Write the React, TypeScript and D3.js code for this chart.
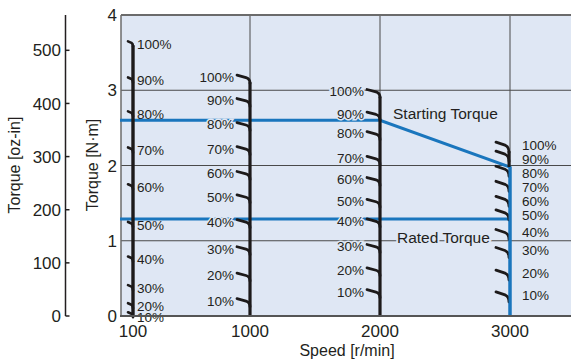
import React from "react";
import * as d3 from "d3";

// ---- data ----
const speeds = [100, 1000, 2000, 3000];
const percentLabels = ["10%", "20%", "30%", "40%", "50%", "60%", "70%", "80%", "90%", "100%"];
const torqueAt100 = [0.05, 0.17, 0.41, 0.79, 1.25, 1.75, 2.24, 2.72, 3.17, 3.65];
const torqueAt1000 = [0.23, 0.57, 0.92, 1.28, 1.61, 1.92, 2.25, 2.57, 2.89, 3.2];
const torqueAt2000 = [0.35, 0.64, 0.95, 1.29, 1.55, 1.84, 2.12, 2.45, 2.71, 3.01];
const torqueAt3000 = [0.32, 0.61, 0.91, 1.15, 1.41, 1.59, 1.79, 1.99, 2.19, 2.31];
const startingSpeed = [0, 2000, 3000, 3000];
const startingTorque = [2.6, 2.6, 1.98, 0];
const ratedSpeed = [0, 3000];
const ratedTorque = [1.29, 1.29];
const xTicks = [100, 1000, 2000, 3000];
const xGrid = [1000, 2000, 3000];
const yTicks = [0, 1, 2, 3, 4];
const yGrid = [1, 2, 3];
const ozTicks = [0, 100, 200, 300, 400, 500];
const NM_TO_OZIN = 141.612;

const W = 571;
const H = 363;
const FONT = "'Liberation Sans', Arial, Helvetica, sans-serif";
const TXT = "#231f20";
const BG = "#dfe7f4";
const BLUE = "#1a76bd";
const GRID = "#4a4a4a";
const INK = "#1d1a1a";

export default function App() {
  const x = d3.scaleLinear().domain([0, 3500]).range([120, 575]);
  const y = d3.scaleLinear().domain([0, 4]).range([316, 15]);
  const yOz = d3.scaleLinear().domain([0, 4 * NM_TO_OZIN]).range([316, 15]);
  const line = d3
    .line<[number, number]>()
    .x((d) => x(d[0]))
    .y((d) => y(d[1]));

  const series = [torqueAt100, torqueAt1000, torqueAt2000, torqueAt3000];

  const curves: React.ReactNode[] = [];
  const labels: React.ReactNode[] = [];

  series.forEach((vals, si) => {
    const sp = speeds[si];
    const xs = x(sp);
    const small = sp === 100;
    const dx = small ? 5 : 13;
    const dy = small ? 5 : si === 3 ? 10 : 8;
    const topT = d3.max(vals) as number;
    const xe = si === 3 ? xs - 1 : xs;
    if (si !== 3) {
      curves.push(
        <path
          key={`bb${si}`}
          d={`M${xs},${y(topT) + dy - 1}L${xs},${y(0)}`}
          stroke={INK}
          strokeWidth={small ? 3.4 : 3.2}
          fill="none"
        />
      );
    } else {
      curves.push(
        <path
          key={`bb${si}`}
          d={`M${xe},${y(topT) + dy - 1}L${xe},${y(startingTorque[2])}`}
          stroke={INK}
          strokeWidth={3}
          fill="none"
        />
      );
    }
    vals.forEach((t, i) => {
      const ty = y(t);
      const d = small
        ? `M${xe - dx},${ty} L${xe - 1.5},${ty + 1.5} Q${xe},${ty + 2.5} ${xe},${ty + dy}`
        : `M${xe - dx},${ty} L${xe - 4},${ty + dy * 0.3} Q${xe},${ty + dy * 0.45} ${xe},${ty + dy}`;
      curves.push(
        <path
          key={`h${si}-${i}`}
          d={d}
          stroke={INK}
          strokeWidth={small ? 2.6 : 2.8}
          fill="none"
          strokeLinecap="round"
          strokeLinejoin="round"
        />
      );
    });

    // labels
    const order = vals.map((_, i) => i).sort((a, b) => vals[b] - vals[a]);
    let prev = -Infinity;
    order.forEach((i) => {
      const ty = y(vals[i]);
      let ly: number;
      let lx: number;
      let anchor: "start" | "end";
      const halo = si === 1 || si === 2;
      if (si === 0) {
        ly = Math.max(ty + 3, prev + 11);
        lx = xs + 4;
        anchor = "start";
      } else if (si === 3) {
        ly = Math.max(ty + 3, prev + 14);
        lx = xs + 12;
        anchor = "start";
      } else {
        ly = ty + 2;
        lx = xs - dx - 3;
        anchor = "end";
      }
      prev = ly;
      labels.push(
        <text
          key={`l${si}-${i}`}
          x={lx}
          y={ly}
          dy="0.36em"
          textAnchor={anchor}
          fontSize={13.5}
          fill={TXT}
          stroke={halo ? BG : "none"}
          strokeWidth={halo ? 3 : 0}
          paintOrder="stroke"
        >
          {percentLabels[i]}
        </text>
      );
    });
  });

  const startPts: [number, number][] = startingSpeed.map((s, i) => [s, startingTorque[i]]);
  const ratedPts: [number, number][] = ratedSpeed.map((s, i) => [s, ratedTorque[i]]);
  const x0 = x(0) + 1;

  return (
    <svg
      width={W}
      height={H}
      style={{ position: "absolute", left: 0, top: 0, fontFamily: FONT }}
    >
      <rect x={0} y={0} width={W} height={H} fill="#fff" />
      <rect x={x0} y={y(4)} width={W - x0} height={y(0) - y(4)} fill={BG} />
      {yGrid.map((g) => (
        <line key={`gy${g}`} x1={x0} x2={W} y1={y(g)} y2={y(g)} stroke={GRID} strokeWidth={1} />
      ))}
      {xGrid.map((g) => (
        <line key={`gx${g}`} x1={x(g)} x2={x(g)} y1={y(4)} y2={y(0)} stroke={GRID} strokeWidth={1} />
      ))}
      <line x1={x0} x2={W} y1={y(4)} y2={y(4)} stroke="#6b6b6b" strokeWidth={2} />
      <line x1={x0} x2={x0} y1={y(4)} y2={y(0)} stroke="#6b6b6b" strokeWidth={1.5} />
      <path d={line(startPts) || ""} stroke={BLUE} strokeWidth={3} fill="none" />
      <path d={line(ratedPts) || ""} stroke={BLUE} strokeWidth={3} fill="none" />
      <g fontFamily={FONT}>{labels}</g>
      <text x={393} y={113} dy="0.36em" fontSize={15.5} fill={TXT} stroke={BG} strokeWidth={4} paintOrder="stroke">
        Starting Torque
      </text>
      <text x={397} y={237} dy="0.36em" fontSize={15.5} fill={TXT} stroke={BG} strokeWidth={4} paintOrder="stroke">
        Rated Torque
      </text>
      <g>{curves}</g>
      <path
        d={line([
          [startingSpeed[2], startingTorque[2]],
          [startingSpeed[3], startingTorque[3]],
        ]) || ""}
        stroke={BLUE}
        strokeWidth={3}
        fill="none"
      />
      <line x1={x0 - 1} x2={W} y1={y(0)} y2={y(0)} stroke="#555" strokeWidth={2} />

      {yTicks.map((t) => (
        <text key={`yt${t}`} x={117} y={y(t)} dy="0.36em" textAnchor="end" fontSize={17} fill={TXT}>
          {t}
        </text>
      ))}
      {xTicks.map((t) => (
        <text key={`xt${t}`} x={x(t)} y={337} textAnchor="middle" fontSize={17} fill={TXT}>
          {t}
        </text>
      ))}
      <line x1={65.5} x2={65.5} y1={y(4)} y2={y(0)} stroke="#231f20" strokeWidth={1.5} />
      {ozTicks.map((t) => (
        <g key={`oz${t}`}>
          <line x1={65.5} x2={69.5} y1={yOz(t)} y2={yOz(t)} stroke="#231f20" strokeWidth={1.5} />
          <text x={61} y={yOz(t)} dy="0.36em" textAnchor="end" fontSize={17} fill={TXT}>
            {t}
          </text>
        </g>
      ))}
      <text x={347} y={356} textAnchor="middle" fontSize={16} fill={TXT}>
        Speed [r/min]
      </text>
      <text transform="translate(98,165) rotate(-90)" textAnchor="middle" fontSize={16} fill={TXT}>
        Torque [N·m]
      </text>
      <text transform="translate(20,165) rotate(-90)" textAnchor="middle" fontSize={16} fill={TXT}>
        Torque [oz-in]
      </text>
    </svg>
  );
}
